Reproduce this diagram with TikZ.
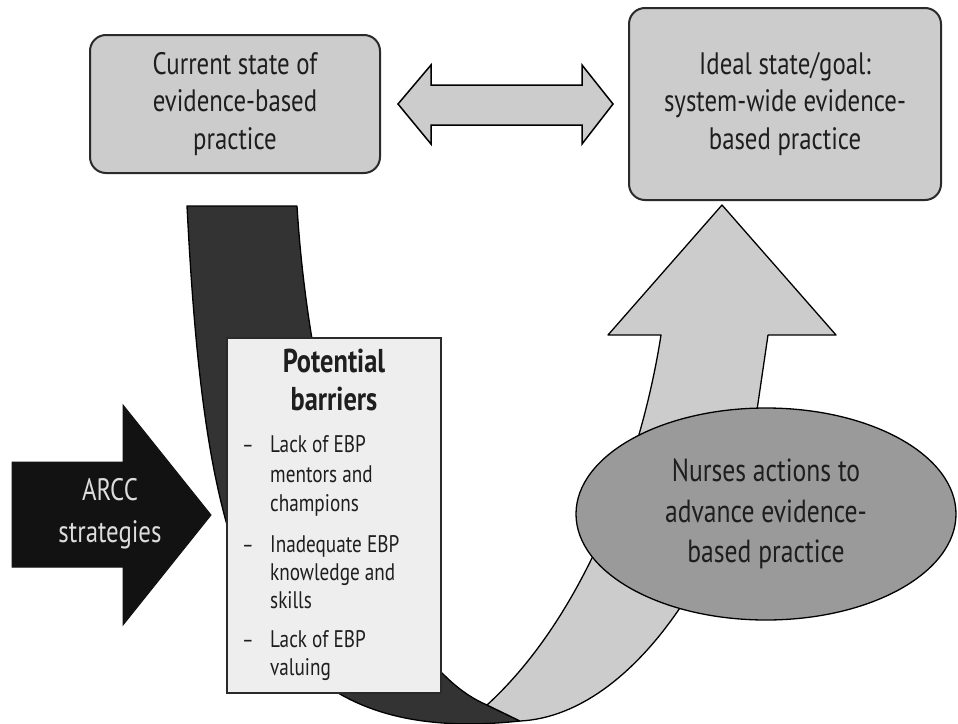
\documentclass[tikz,border=0pt]{standalone}
\usepackage{fontspec}
\setmainfont{PT Sans}[FakeStretch=0.8]
\usetikzlibrary{shapes.geometric}
\definecolor{boxgray}{HTML}{CCCCCC}
\definecolor{lightgray2}{HTML}{EEEEEE}
\definecolor{midgray}{HTML}{9A9A9A}
\definecolor{darkband}{HTML}{333333}
\definecolor{arrowblack}{HTML}{121212}
\definecolor{linegray}{HTML}{2A2A2A}
\definecolor{txt}{HTML}{1E1E1E}
\definecolor{whitetxt}{HTML}{DDDDDD}
\tikzset{
  statebox/.style={draw=linegray, line width=2pt, fill=boxgray, rounded corners=16pt,
    align=center, text=txt, inner sep=0pt, font=\fontsize{31}{37.5}\selectfont},
  bandline/.style={draw=black, line width=1.3pt, line join=round},
  listtxt/.style={anchor=base west, inner sep=0pt, text=txt, font=\fontsize{24}{29}\selectfont},
  listdash/.style={anchor=base, inner sep=0pt, text=txt, font=\fontsize{22}{29}\selectfont},
  titletxt/.style={anchor=base, inner sep=0pt, text=txt, font=\fontsize{33}{38}\bfseries\selectfont},
}
\begin{document}
\begin{tikzpicture}[x=1pt,y=-1pt]
\useasboundingbox (0,0) rectangle (958,723);
\fill[white] (0,0) rectangle (958,723);

% dark band (down part of U)
\path[bandline, fill=darkband]
  (187,206) .. controls (205,560) and (250,750) .. (520,721)
  -- (487,705)
  .. controls (380,660) and (310,420) .. (297,206) -- cycle;

% light band with arrow head (up part of U)
\path[bandline, fill=boxgray]
  (487,705) -- (520,721)
  .. controls (640,715) and (740,540) .. (757,410)
  -- (768,335) -- (836,335) -- (722,205) -- (608,335) -- (661,335)
  .. controls (640,470) and (580,620) .. (487,705) -- cycle;

% ellipse
\node[ellipse, draw=black, line width=1.3pt, fill=midgray, minimum width=380pt, minimum height=212pt,
  inner sep=0pt, align=center, text=txt, font=\fontsize{32}{40.5}\selectfont]
  (nurses) at (766,514) {Nurses actions to\\advance evidence-\\based practice};

% barrier box
\node[draw=linegray, line width=1.6pt, fill=lightgray2, minimum width=214pt, minimum height=355pt, inner sep=0pt]
  (barriers) at (334,515.5) {};
\node[titletxt] (t1) at (334,372) {Potential};
\node[titletxt] (t2) at (334,410) {barriers};
\node[listdash] (d1) at (248,452) {–};
\node[listtxt] (a1) at (270,452) {Lack of EBP};
\node[listtxt] (a2) at (270,482) {mentors and};
\node[listtxt] (a3) at (270,511) {champions};
\node[listdash] (d2) at (248,552) {–};
\node[listtxt] (b1) at (270,552) {Inadequate EBP};
\node[listtxt] (b2) at (270,580) {knowledge and};
\node[listtxt] (b3) at (270,608) {skills};
\node[listdash] (d3) at (248,647) {–};
\node[listtxt] (c1) at (270,647) {Lack of EBP};
\node[listtxt] (c2) at (270,675) {valuing};

% ARCC arrow
\path[fill=arrowblack, draw=arrowblack, line width=1pt, line join=miter]
  (12,462) -- (123,462) -- (123,405) -- (211,515) -- (123,625) -- (123,567) -- (12,567) -- cycle;
\node[align=center, inner sep=0pt, text=whitetxt, font=\fontsize{31}{42}\selectfont]
  (arcc) at (110,514) {ARCC\\strategies};

% top boxes
\node[statebox, minimum width=290pt, minimum height=138pt] (cur) at (235,104)
  {Current state of\\evidence-based\\practice};
\node[statebox, minimum width=312pt, minimum height=192pt] (ideal) at (785,104)
  {Ideal state/goal:\\system-wide evidence-\\based practice};

% double arrow between the boxes
\path[bandline, fill=boxgray, line width=1.5pt, line join=miter]
  (398,104) -- (431,65) -- (431,85) -- (582,85) -- (582,65) -- (613,104)
  -- (582,144) -- (582,125) -- (431,125) -- (431,144) -- cycle;
\end{tikzpicture}
\end{document}
